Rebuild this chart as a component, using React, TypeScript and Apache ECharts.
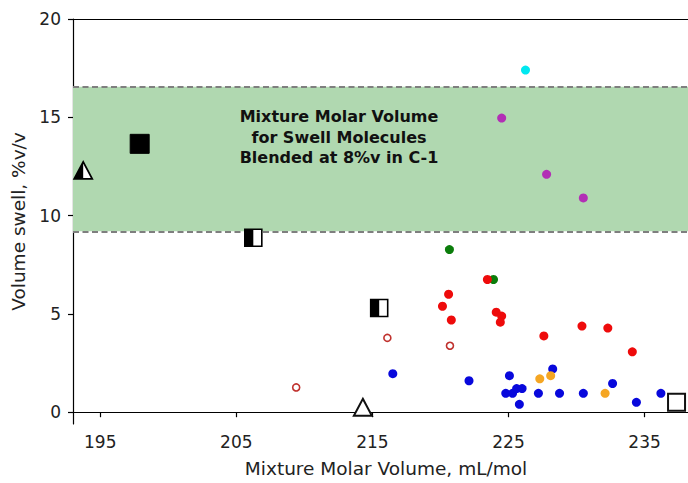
import React, { useEffect, useRef } from "react";
import * as echarts from "echarts";

const xTicks = [195, 205, 215, 225, 235];
const yTicks = [0, 5, 10, 15, 20];

const bandLow = 9.2;
const bandHigh = 16.55;

const redPoints: [number, number][] = [
  [223.45, 6.75], [220.6, 6.0], [220.15, 5.39], [220.8, 4.69], [224.1, 5.09],
  [224.5, 4.89], [224.4, 4.58], [227.6, 3.88], [230.4, 4.38], [232.3, 4.28], [234.1, 3.07],
];
const bluePoints: [number, number][] = [
  [216.5, 1.96], [222.1, 1.6], [225.07, 1.86], [228.25, 2.2], [224.8, 0.96],
  [225.3, 0.96], [225.6, 1.2], [226.0, 1.2], [225.8, 0.4], [227.2, 0.96],
  [228.75, 0.96], [230.5, 0.96], [232.65, 1.46], [234.4, 0.5], [236.2, 0.96],
];
const orangePoints: [number, number][] = [[227.3, 1.7], [228.1, 1.86], [232.1, 0.96]];
const greenPoints: [number, number][] = [[220.66, 8.27], [223.9, 6.75]];
const magentaPoints: [number, number][] = [[224.5, 14.96], [227.8, 12.1], [230.5, 10.9]];
const cyanPoints: [number, number][] = [[226.25, 17.4]];
const openRedPoints: [number, number][] = [[216.1, 3.78], [220.7, 3.38], [209.4, 1.26]];

const filledSquares: [number, number][] = [[197.9, 13.65]];
const halfSquares: [number, number][] = [[206.25, 8.87], [215.5, 5.3]];
const halfTriangles: [number, number][] = [[193.75, 12.3]];
const openTriangles: [number, number][] = [[214.3, 0.25]];
const openSquares: [number, number][] = [[237.35, 0.5]];

const FONT = "DejaVu Sans";

function dots(data: [number, number][], color: string) {
  return {
    type: "scatter",
    data,
    symbol: "circle",
    symbolSize: 9,
    itemStyle: { color, opacity: 1 },
    z: 5,
    silent: true,
  };
}

function customMarker(data: [number, number][], kind: string) {
  return {
    type: "custom",
    data,
    z: 6,
    silent: true,
    clip: false,
    renderItem: (params: any, api: any) => {
      const p = api.coord([api.value(0), api.value(1)]);
      const cx = p[0];
      const cy = p[1];
      if (kind === "filledSquare") {
        const s = 19;
        return {
          type: "rect",
          shape: { x: cx - s / 2, y: cy - s / 2, width: s, height: s },
          style: { fill: "#000", stroke: "#000", lineWidth: 1 },
        };
      }
      if (kind === "halfSquare") {
        const s = 17;
        return {
          type: "group",
          children: [
            {
              type: "rect",
              shape: { x: cx - s / 2, y: cy - s / 2, width: s, height: s },
              style: { fill: "#fff", stroke: "#000", lineWidth: 1.6 },
            },
            {
              type: "rect",
              shape: { x: cx - s / 2, y: cy - s / 2, width: s / 2, height: s },
              style: { fill: "#000" },
            },
          ],
        };
      }
      if (kind === "openSquare") {
        const s = 17;
        return {
          type: "rect",
          shape: { x: cx - s / 2, y: cy - s / 2, width: s, height: s },
          style: { fill: "#fff", stroke: "#111", lineWidth: 2 },
        };
      }
      const w = 18;
      const h = 17;
      const top = cy - h / 2;
      const bottom = cy + h / 2;
      if (kind === "halfTriangle") {
        return {
          type: "group",
          children: [
            {
              type: "polygon",
              shape: { points: [[cx, top], [cx + w / 2, bottom], [cx - w / 2, bottom]] },
              style: { fill: "#fff", stroke: "#000", lineWidth: 1.8, lineJoin: "miter" },
            },
            {
              type: "polygon",
              shape: { points: [[cx, top], [cx, bottom], [cx - w / 2, bottom]] },
              style: { fill: "#000" },
            },
          ],
        };
      }
      return {
        type: "polygon",
        shape: { points: [[cx, top], [cx + w / 2, bottom], [cx - w / 2, bottom]] },
        style: { fill: "#fff", stroke: "#111", lineWidth: 2, lineJoin: "miter" },
      };
    },
  };
}

export default function App() {
  const ref = useRef<HTMLDivElement>(null);
  useEffect(() => {
    document.body.style.margin = "0";
    const chart = echarts.init(ref.current!, null, { renderer: "svg" });
    const axisLine = { show: true, lineStyle: { color: "#000", width: 1.2 } };
    const option: any = {
      animation: false,
      backgroundColor: "#fff",
      grid: {
        left: 73,
        top: 19,
        width: 626,
        height: 409,
        show: false,
      },
      xAxis: [
        {
          type: "value",
          min: 193,
          max: 239,
          name: "Mixture Molar Volume, mL/mol",
          nameLocation: "middle",
          nameGap: 35,
          nameTextStyle: { fontFamily: FONT, fontSize: 18.5, color: "#222" },
          axisLine,
          axisTick: {
            show: true,
            length: 5,
            lineStyle: { color: "#000", width: 1.2 },
            customValues: xTicks,
          },
          axisLabel: {
            fontFamily: FONT,
            fontSize: 17,
            color: "#222",
            margin: 9,
            customValues: xTicks,
          },
          splitLine: { show: false },
        },
        {
          type: "value",
          position: "top",
          min: 193,
          max: 239,
          axisLine: { ...axisLine, onZero: false },
          axisTick: { show: false },
          axisLabel: { show: false },
          splitLine: { show: false },
        },
      ],
      yAxis: {
        type: "value",
        min: -0.6,
        max: 20,
        name: "Volume swell, %v/v",
        nameLocation: "middle",
        nameGap: 44,
        nameTextStyle: { fontFamily: FONT, fontSize: 18.5, color: "#222" },
        axisLine: { ...axisLine, onZero: false },
        axisTick: {
          show: true,
          length: 5,
          lineStyle: { color: "#000", width: 1.2 },
          customValues: yTicks,
        },
        axisLabel: {
          fontFamily: FONT,
          fontSize: 17,
          color: "#222",
          margin: 12,
          customValues: yTicks,
        },
        splitLine: { show: false },
      },
      graphic: [
        {
          type: "text",
          x: 339,
          y: 137,
          z: 10,
          style: {
            text: "Mixture Molar Volume\nfor Swell Molecules\nBlended at 8%v in C-1",
            fontFamily: FONT,
            fontWeight: "bold",
            fontSize: 16,
            lineHeight: 20.5,
            fill: "#111",
            textAlign: "center",
            textVerticalAlign: "middle",
          },
        },
      ],
      series: [
        {
          type: "scatter",
          data: [],
          z: 1,
          silent: true,
          markArea: {
            silent: true,
            itemStyle: { color: "#b0d8b0" },
            data: [[{ yAxis: bandLow }, { yAxis: bandHigh }]],
          },
          markLine: {
            silent: true,
            symbol: "none",
            label: { show: false },
            lineStyle: { color: "#7f7f7f", width: 2, type: [6, 3.5] },
            data: [{ yAxis: bandLow }, { yAxis: bandHigh }],
          },
        },
        dots(cyanPoints, "#00e8f0"),
        dots(magentaPoints, "#b22fb5"),
        dots(greenPoints, "#0b7d0b"),
        dots(redPoints, "#ee0b0b"),
        dots(bluePoints, "#0808dc"),
        dots(orangePoints, "#f5a623"),
        {
          type: "scatter",
          data: openRedPoints,
          symbol: "circle",
          symbolSize: 7,
          itemStyle: { color: "#fff", borderColor: "#c0322e", borderWidth: 1.6, opacity: 1 },
          z: 5,
          silent: true,
        },
        customMarker(filledSquares, "filledSquare"),
        customMarker(halfSquares, "halfSquare"),
        customMarker(halfTriangles, "halfTriangle"),
        customMarker(openTriangles, "openTriangle"),
        customMarker(openSquares, "openSquare"),
      ],
    };
    chart.setOption(option);
    return () => chart.dispose();
  }, []);
  return (
    <div style={{ width: 688, height: 483, overflow: "hidden", position: "relative" }}>
      <div ref={ref} style={{ width: 710, height: 483 }} />
    </div>
  );
}
